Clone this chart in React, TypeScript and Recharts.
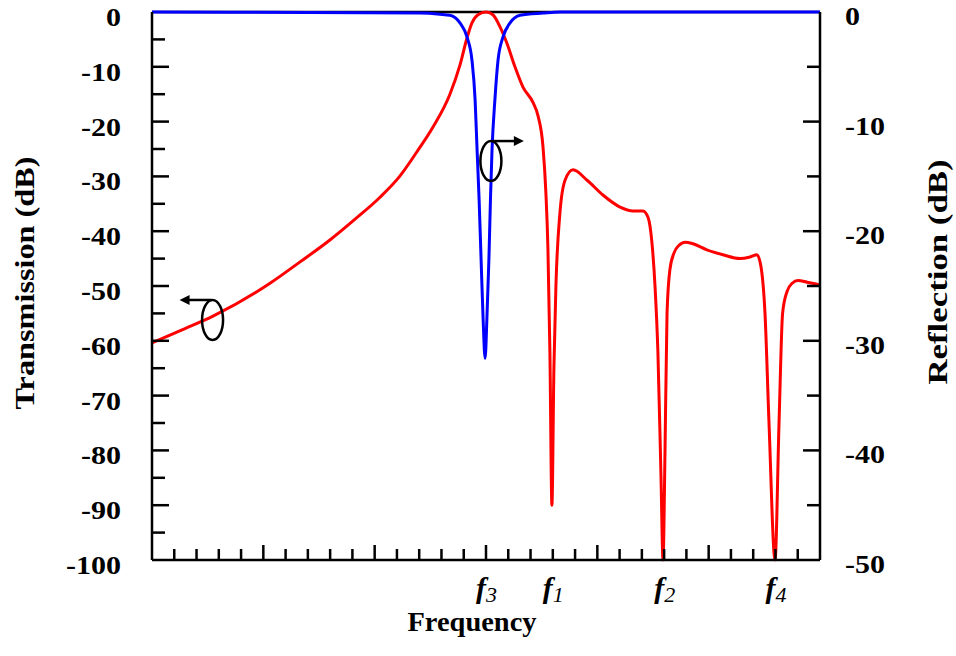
import { LineChart, Line, XAxis, YAxis, ReferenceLine, ReferenceDot } from "recharts";

// transmission (left axis, dB) – frequency in arbitrary tick units (0..30)
const transFreq = [
  0, 1.35, 2.74, 5.3, 6.65, 7.99, 9.12, 10.24, 11.14, 11.9, 12.62, 13.38, 13.83,
  14.15, 14.37, 14.64, 15.0, 15.31, 15.63, 15.94, 16.3, 16.66, 17.11, 17.34, 17.56, 17.69,
  17.78, 17.87, 17.96, 18.05, 18.14, 18.32, 18.55, 18.91, 19.54, 20.25, 21.02, 21.6, 22.05,
  22.28, 22.45, 22.59, 22.72, 22.86, 22.95, 23.04, 23.13, 23.26, 23.44, 23.66, 23.95, 24.3, 24.92,
  25.64, 26.41, 26.86, 27.17, 27.35, 27.53, 27.71, 27.98, 28.16, 28.32, 28.52, 28.75, 29.01,
  29.42, 30,
];
const transDb = [
  -60.4, -58, -55.5, -49.5, -45.6, -41.6, -37.8, -33.8, -29.9, -25.5, -21, -15, -9.7,
  -4.7, -2, -0.5, 0, -0.5, -2.7, -5.7, -10, -13.7, -16.5, -19, -24.6, -33,
  -43, -62, -90, -65, -50, -36.7, -30.7, -28.8, -30.7, -33.4, -35.6, -36.3, -36.3,
  -37.5, -42, -50, -62, -85, -100, -80, -55, -47, -44, -42.6, -42, -42.3, -43.4,
  -44.3, -45, -44.7, -44.3, -46.5, -55, -75, -100, -75, -55, -51, -49.5, -49,
  -49.3, -49.8,
];

// reflection (right axis, dB)
const reflFreq = [
  0, 12.04, 12.93, 13.38, 13.83, 14.15, 14.37, 14.51, 14.6, 14.69, 14.78, 14.87, 14.96,
  15.04, 15.13, 15.2, 15.27, 15.4, 15.54, 15.76, 16.08, 16.53, 17.56, 18.32, 30,
];
const reflDb = [
  0, -0.1, -0.2, -0.3, -1, -2.3, -4.4, -8, -12.6, -17.1, -22.6, -28, -31.6,
  -28, -22.6, -17.1, -12.6, -8, -4.4, -2.3, -1, -0.3, -0.1, 0, 0,
];

const xTicks = [0, 1, 2, 3, 4, 5, 6, 7, 8, 9, 10, 11, 12, 13, 14, 15, 16, 17, 18, 19, 20, 21, 22, 23, 24, 25, 26, 27, 28, 29, 30];
const leftTicks = [0, -5, -10, -15, -20, -25, -30, -35, -40, -45, -50, -55, -60, -65, -70, -75, -80, -85, -90, -95, -100];
const rightTicks = [0, -5, -10, -15, -20, -25, -30, -35, -40, -45, -50];
const markerFreq = [15, 18, 23, 28];
const markerSub = ["3", "1", "2", "4"];

const transData = transFreq.map((f, i) => ({ f, t: transDb[i] }));
const reflData = reflFreq.map((f, i) => ({ f, r: reflDb[i] }));

const FONT = '"Liberation Serif", "Times New Roman", serif';

const LeftTick = (props: any) => {
  const { x, y, payload } = props;
  const v = payload.value;
  const major = v % 10 === 0;
  const edge = v === 0 || v === -100;
  return (
    <g>
      {!edge && <line x1={x} x2={x + (major ? 17 : 13)} y1={y} y2={y} stroke="#000" strokeWidth={2.5} />}
      {major && (
        <text transform={`translate(${x - 31},${y + 14}) scale(1.2,1)`} textAnchor="end"
          fontFamily={FONT} fontWeight="bold" fontSize={25} fill="#000">{v}</text>
      )}
    </g>
  );
};

const RightTick = (props: any) => {
  const { x, y, payload } = props;
  const v = payload.value;
  const major = v % 10 === 0;
  const edge = v === 0 || v === -50;
  return (
    <g>
      {!edge && <line x1={x} x2={x - (major ? 17 : 13)} y1={y} y2={y} stroke="#000" strokeWidth={2.5} />}
      {major && (
        <text transform={`translate(${x + 25},${y + 13}) scale(1.2,1)`} textAnchor="start"
          fontFamily={FONT} fontWeight="bold" fontSize={25} fill="#000">{v}</text>
      )}
    </g>
  );
};

const BottomTick = (props: any) => {
  const { x, y, payload } = props;
  const v = payload.value;
  const idx = markerFreq.indexOf(v);
  const edge = v === 0 || v === 30;
  return (
    <g>
      {!edge && <line x1={x} x2={x} y1={y} y2={y - (v % 5 === 0 ? 15 : 11)} stroke="#000" strokeWidth={2.5} />}
      {idx >= 0 && (
        <g fontFamily={FONT} fill="#000">
          <text x={x} y={y + 38} textAnchor="end" fontStyle="italic" fontWeight="bold" fontSize={30}>f</text>
          <text x={x} y={y + 42} textAnchor="start" fontStyle="italic" fontSize={22}>{markerSub[idx]}</text>
        </g>
      )}
    </g>
  );
};

const LeftTitle = ({ viewBox }: any) => {
  const cx = viewBox.x + 25;
  const cy = viewBox.y + viewBox.height / 2 - 3;
  return (
    <text transform={`translate(${cx},${cy}) rotate(-90)`} textAnchor="middle" dominantBaseline="central"
      fontFamily={FONT} fontWeight="bold" fontSize={27} fill="#000" textLength={253} lengthAdjust="spacingAndGlyphs">
      Transmission (dB)
    </text>
  );
};

const RightTitle = ({ viewBox }: any) => {
  const cx = viewBox.x + 118;
  const cy = viewBox.y + viewBox.height / 2 - 14;
  return (
    <text transform={`translate(${cx},${cy}) rotate(-90)`} textAnchor="middle" dominantBaseline="central"
      fontFamily={FONT} fontWeight="bold" fontSize={27} fill="#000" textLength={225} lengthAdjust="spacingAndGlyphs">
      Reflection (dB)
    </text>
  );
};

const BottomTitle = ({ viewBox }: any) => (
  <text x={viewBox.x + 320} y={viewBox.y + 71} textAnchor="middle"
    fontFamily={FONT} fontWeight="bold" fontSize={28} fill="#000" textLength={129} lengthAdjust="spacingAndGlyphs">
    Frequency
  </text>
);

// ellipse marker with arrow pointing to the axis that the curve belongs to
const Marker = (dir: number) => (props: any) => {
  const { cx, cy } = props;
  const ay = cy - 20;
  const x0 = cx + dir * 1;
  const x1 = cx + dir * 33;
  return (
    <g>
      <ellipse cx={cx} cy={cy} rx={10.5} ry={20} fill="none" stroke="#000" strokeWidth={2.5} />
      <line x1={x0} x2={x1 - dir * 6} y1={ay} y2={ay} stroke="#000" strokeWidth={2.5} />
      <polygon points={`${x1},${ay} ${x1 - dir * 10},${ay - 5} ${x1 - dir * 10},${ay + 5}`} fill="#000" />
    </g>
  );
};

export default function App() {
  return (
    <div style={{ position: "absolute", left: 0, top: 0, background: "#fff" }}>
      <LineChart width={956} height={656} margin={{ top: 12, right: 0, bottom: 0, left: 0 }}>
        <XAxis
          dataKey="f"
          type="number"
          domain={[0, 30]}
          ticks={xTicks}
          interval={0}
          height={96}
          tickSize={0}
          tickMargin={0}
          tick={BottomTick}
          axisLine={{ stroke: "#000", strokeWidth: 2.5 }}
          label={<BottomTitle />}
        />
        <YAxis
          yAxisId="left"
          orientation="left"
          domain={[-100, 0]}
          ticks={leftTicks}
          interval={0}
          width={152}
          tickSize={0}
          tickMargin={0}
          tick={LeftTick}
          axisLine={{ stroke: "#000", strokeWidth: 2.5 }}
          label={<LeftTitle />}
        />
        <YAxis
          yAxisId="right"
          orientation="right"
          domain={[-50, 0]}
          ticks={rightTicks}
          interval={0}
          width={136}
          tickSize={0}
          tickMargin={0}
          tick={RightTick}
          axisLine={{ stroke: "#000", strokeWidth: 2.5 }}
          label={<RightTitle />}
        />
        <ReferenceLine yAxisId="left" y={0} stroke="#000" strokeWidth={2.5} />
        <Line
          yAxisId="left"
          data={transData}
          dataKey="t"
          type="monotone"
          stroke="#ff0000"
          strokeWidth={3}
          dot={false}
          isAnimationActive={false}
        />
        <Line
          yAxisId="right"
          data={reflData}
          dataKey="r"
          type="monotone"
          stroke="#0000ff"
          strokeWidth={3}
          dot={false}
          isAnimationActive={false}
        />
        <ReferenceDot yAxisId="left" x={2.72} y={-56.2} r={1} shape={Marker(-1)} />
        <ReferenceDot yAxisId="left" x={15.22} y={-27.2} r={1} shape={Marker(1)} />
      </LineChart>
    </div>
  );
}
